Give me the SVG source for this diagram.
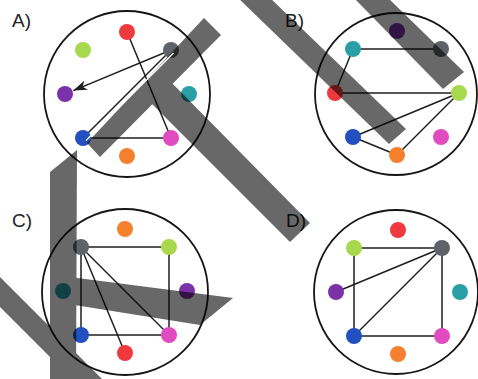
<svg xmlns="http://www.w3.org/2000/svg" width="478" height="379" viewBox="0 0 478 379">
<style>
.frame{fill:none;stroke:#161616;stroke-width:1.8}
.edge{stroke:#1e1e1e;stroke-width:1.5;fill:none}
.lbl{font-family:"Liberation Sans",Arial,sans-serif;font-size:19px;fill:#222}
.red{fill:#ee3a3f}.lime{fill:#a8d84e}.gray{fill:#5f6368}.purple{fill:#7a32a8}
.teal{fill:#2aa0a6}.blue{fill:#2350c0}.pink{fill:#e04bbf}.orange{fill:#f5802e}
</style>
<defs>
<marker id="arr" viewBox="0 0 14 10" refX="14" refY="5" markerWidth="14" markerHeight="10" orient="auto" markerUnits="userSpaceOnUse">
<path d="M0,0 L14,5 L0,10 L4,5 Z" fill="#1e1e1e"/>
</marker>
</defs>
<rect width="478" height="379" fill="#fff"/>
<g id="panels">
<g id="panelA"><circle class="frame" cx="127" cy="94" r="83"/><text class="lbl" x="12" y="27">A)</text></g>
<g id="panelB"><circle class="frame" cx="396" cy="94" r="81"/><text class="lbl" x="285" y="27">B)</text></g>
<g id="panelC"><circle class="frame" cx="125" cy="292" r="83"/><text class="lbl" x="12" y="227">C)</text></g>
<g id="panelD"><circle class="frame" cx="396" cy="292" r="82"/><text class="lbl" x="286" y="227">D)</text></g>
</g>
<g id="connectors" class="edge">
<line x1="171" y1="50" x2="73.3" y2="90.6" marker-end="url(#arr)"/>
<line x1="171" y1="50" x2="83" y2="138"/>
<line x1="127" y1="32" x2="171" y2="138"/>
<line x1="83" y1="138" x2="171" y2="138"/>
<line x1="353" y1="49" x2="441" y2="49"/>
<line x1="353" y1="49" x2="335" y2="93"/>
<line x1="335" y1="93" x2="459" y2="93"/>
<line x1="459" y1="93" x2="353" y2="137"/>
<line x1="459" y1="93" x2="397" y2="155"/>
<line x1="353" y1="137" x2="397" y2="155"/>
<line x1="81" y1="247" x2="169" y2="247"/>
<line x1="169" y1="247" x2="169" y2="335"/>
<line x1="81" y1="247" x2="81" y2="335"/>
<line x1="81" y1="335" x2="169" y2="335"/>
<line x1="81" y1="247" x2="125" y2="353"/>
<line x1="81" y1="247" x2="169" y2="335"/>
<line x1="354" y1="248" x2="442" y2="248"/>
<line x1="354" y1="248" x2="354" y2="336"/>
<line x1="442" y1="248" x2="336" y2="292"/>
<line x1="442" y1="248" x2="354" y2="336"/>
<line x1="442" y1="248" x2="442" y2="336"/>
<line x1="354" y1="336" x2="442" y2="336"/>
</g>
<g id="nodes">
<g id="A-red"><circle class="red" cx="127" cy="32" r="8"/></g>
<g id="A-lime"><circle class="lime" cx="83" cy="50" r="8"/></g>
<g id="A-gray"><circle class="gray" cx="171" cy="50" r="8"/></g>
<g id="A-purple"><circle class="purple" cx="65" cy="94" r="8"/></g>
<g id="A-teal"><circle class="teal" cx="189" cy="94" r="8"/></g>
<g id="A-blue"><circle class="blue" cx="83" cy="138" r="8"/></g>
<g id="A-pink"><circle class="pink" cx="171" cy="138" r="8"/></g>
<g id="A-orange"><circle class="orange" cx="127" cy="156" r="8"/></g>
<g id="B-purple"><circle class="purple" cx="397" cy="31" r="8"/></g>
<g id="B-teal"><circle class="teal" cx="353" cy="49" r="8"/></g>
<g id="B-gray"><circle class="gray" cx="441" cy="49" r="8"/></g>
<g id="B-red"><circle class="red" cx="335" cy="93" r="8"/></g>
<g id="B-lime"><circle class="lime" cx="459" cy="93" r="8"/></g>
<g id="B-blue"><circle class="blue" cx="353" cy="137" r="8"/></g>
<g id="B-pink"><circle class="pink" cx="441" cy="137" r="8"/></g>
<g id="B-orange"><circle class="orange" cx="397" cy="155" r="8"/></g>
<g id="C-orange"><circle class="orange" cx="125" cy="229" r="8"/></g>
<g id="C-gray"><circle class="gray" cx="81" cy="247" r="8"/></g>
<g id="C-lime"><circle class="lime" cx="169" cy="247" r="8"/></g>
<g id="C-teal"><circle class="teal" cx="63" cy="291" r="8"/></g>
<g id="C-purple"><circle class="purple" cx="187" cy="291" r="8"/></g>
<g id="C-blue"><circle class="blue" cx="81" cy="335" r="8"/></g>
<g id="C-pink"><circle class="pink" cx="169" cy="335" r="8"/></g>
<g id="C-red"><circle class="red" cx="125" cy="353" r="8"/></g>
<g id="D-red"><circle class="red" cx="398" cy="230" r="8"/></g>
<g id="D-lime"><circle class="lime" cx="354" cy="248" r="8"/></g>
<g id="D-gray"><circle class="gray" cx="442" cy="248" r="8"/></g>
<g id="D-purple"><circle class="purple" cx="336" cy="292" r="8"/></g>
<g id="D-teal"><circle class="teal" cx="460" cy="292" r="8"/></g>
<g id="D-blue"><circle class="blue" cx="354" cy="336" r="8"/></g>
<g id="D-pink"><circle class="pink" cx="442" cy="336" r="8"/></g>
<g id="D-orange"><circle class="orange" cx="398" cy="354" r="8"/></g>
</g>
<g id="bars" fill="#000" opacity="0.59">
<polygon points="87,143 204,18 221,35 100,157"/>
<polygon points="167,78 310,223 290,242 147,99"/>
<polygon points="235,-5 267,-5 406,129 389,144"/>
<polygon points="352,-4 386,-4 464,72 443,89"/>
<polygon points="50,172 77,150 76,381 50,381"/>
<polygon points="-2,275 104,381 74,381 -2,305"/>
<polygon points="62,276 233,298 200,325 62,303"/>
</g>
<g id="halo">
<line x1="173.5" y1="53" x2="86" y2="140.5" stroke="#fff" stroke-width="1.3"/>
</g>
</svg>
